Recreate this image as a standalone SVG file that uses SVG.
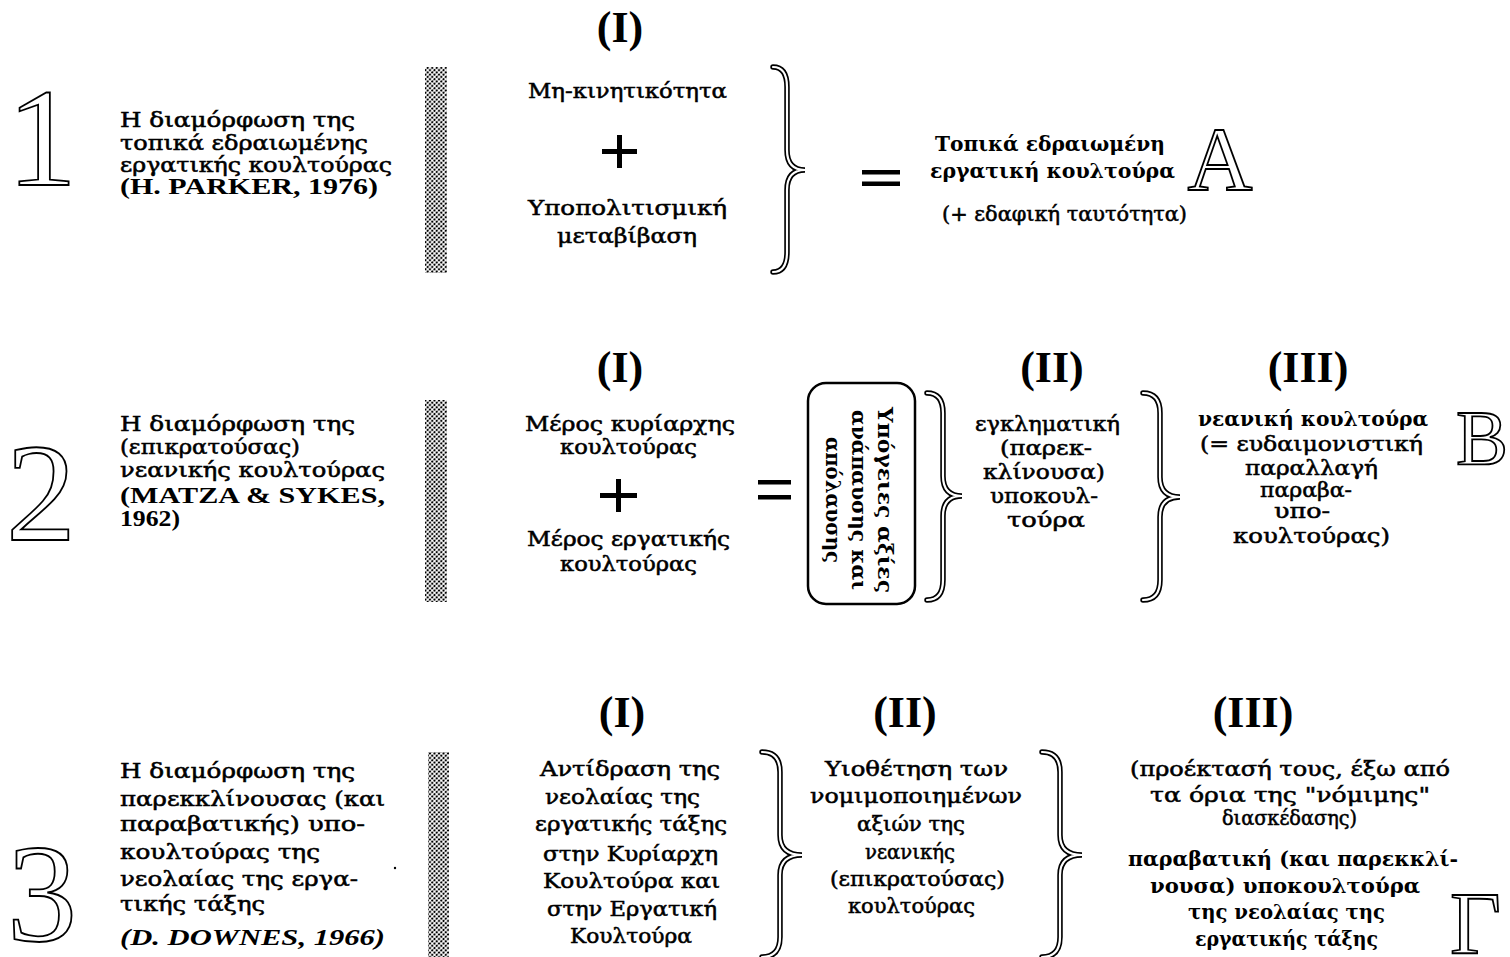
<svg xmlns="http://www.w3.org/2000/svg" width="1510" height="957" viewBox="0 0 1510 957">
<style>
.t{font-family:"DejaVu Serif","Liberation Serif",serif;font-size:21px;fill:#000;stroke:#000;stroke-width:0.55px}
.h{font-family:"DejaVu Serif","Liberation Serif",serif;font-weight:bold;font-size:20px;fill:#000}
.lat{font-family:"Liberation Serif",serif;font-weight:bold;font-size:23px;fill:#000}
.it{font-style:italic}
.hd{font-family:"Liberation Serif",serif;font-weight:bold;font-size:44px;fill:#000;text-anchor:middle}
.ol{font-family:"Liberation Serif",serif;fill:#fff;stroke:#000;stroke-width:1.8px}
.bo{fill:none;stroke:#000;stroke-width:5.5;stroke-linejoin:miter;stroke-linecap:round}
.bi{fill:none;stroke:#fff;stroke-width:2.2;stroke-linejoin:miter;stroke-linecap:round}
.bar{fill:url(#dots)}
.sym{fill:#000}
</style>
<defs>
<pattern id="dots" width="3.2" height="3.2" patternUnits="userSpaceOnUse" patternTransform="rotate(45)">
<rect width="3.2" height="3.2" fill="#fff"/>
<circle cx="1.6" cy="1.6" r="1.15" fill="#000"/>
</pattern>
<path id="br1" d="M773,67 Q787,67 787,87 L787,150 Q787,170 805,170 Q787,170 787,190 L787,252 Q787,272 773,272"/>
<path id="br2" d="M927,393 Q943,393 943,413 L943,476 Q943,496 962,496 Q943,496 943,516 L943,580 Q943,600 927,600"/>
<path id="br3" d="M1143,393 Q1160,393 1160,413 L1160,477 Q1160,497 1180,497 Q1160,497 1160,517 L1160,580 Q1160,600 1143,600"/>
<path id="br4" d="M762,752 Q780,752 780,772 L780,835 Q780,855 802,855 Q780,855 780,875 L780,937 Q780,957 762,957"/>
<path id="br5" d="M1042,752 Q1060,752 1060,772 L1060,835 Q1060,855 1082,855 Q1060,855 1060,875 L1060,937 Q1060,957 1042,957"/>
</defs>
<rect width="1510" height="957" fill="#fff"/>

<!-- Row 1 -->
<g id="num1"><text class="ol" x="42" y="185" font-size="140" text-anchor="middle">1</text></g>
<g id="r1-desc">
<text class="t" x="120" y="127" textLength="235" lengthAdjust="spacingAndGlyphs">Η διαμόρφωση της</text>
<text class="t" x="120" y="150" textLength="248" lengthAdjust="spacingAndGlyphs">τοπικά εδραιωμένης</text>
<text class="t" x="120" y="172" textLength="272" lengthAdjust="spacingAndGlyphs">εργατικής κουλτούρας</text>
<text class="lat" x="120" y="194" textLength="258" lengthAdjust="spacingAndGlyphs">(H. PARKER, 1976)</text>
</g>
<g id="r1-bar"><rect class="bar" x="425" y="67" width="22" height="206"/></g>
<g id="r1-colI">
<text class="hd" x="620" y="42">(I)</text>
<text class="t" x="528" y="98" textLength="199" lengthAdjust="spacingAndGlyphs">Μη-κινητικότητα</text>
<path class="sym" d="M602,149 H637 V154 H602 Z M617,135 H622 V168 H617 Z"/>
<text class="t" x="528" y="215" textLength="199" lengthAdjust="spacingAndGlyphs">Υποπολιτισμική</text>
<text class="t" x="557" y="243" textLength="140" lengthAdjust="spacingAndGlyphs">μεταβίβαση</text>
</g>
<g id="r1-result">
<path class="sym" d="M862,170 H900 V174.5 H862 Z M862,181.5 H900 V186 H862 Z"/>
<text class="h" x="935" y="151" textLength="230" lengthAdjust="spacingAndGlyphs">Τοπικά εδραιωμένη</text>
<text class="h" x="930" y="178" textLength="245" lengthAdjust="spacingAndGlyphs">εργατική κουλτούρα</text>
<text class="t" x="942" y="221" textLength="245" lengthAdjust="spacingAndGlyphs">(+ εδαφική ταυτότητα)</text>
<text class="ol" x="1220" y="190" font-size="90" text-anchor="middle">A</text>
</g>

<!-- Row 2 -->
<g id="num2"><text class="ol" x="41" y="540" font-size="140" text-anchor="middle">2</text></g>
<g id="r2-desc">
<text class="t" x="120" y="431" textLength="235" lengthAdjust="spacingAndGlyphs">Η διαμόρφωση της</text>
<text class="t" x="120" y="454" textLength="180" lengthAdjust="spacingAndGlyphs">(επικρατούσας)</text>
<text class="t" x="120" y="477" textLength="265" lengthAdjust="spacingAndGlyphs">νεανικής κουλτούρας</text>
<text class="lat" x="120" y="503" textLength="265" lengthAdjust="spacingAndGlyphs">(MATZA &amp; SYKES,</text>
<text class="lat" x="120" y="526" textLength="60" lengthAdjust="spacingAndGlyphs">1962)</text>
</g>
<g id="r2-bar"><rect class="bar" x="425" y="400" width="22" height="202"/></g>
<g id="r2-colI">
<text class="hd" x="620" y="382">(I)</text>
<text class="t" x="525" y="431" textLength="210" lengthAdjust="spacingAndGlyphs">Μέρος κυρίαρχης</text>
<text class="t" x="560" y="454" textLength="137" lengthAdjust="spacingAndGlyphs">κουλτούρας</text>
<path class="sym" d="M600,493 H637 V498 H600 Z M616,479 H621 V512 H616 Z"/>
<text class="t" x="527" y="546" textLength="203" lengthAdjust="spacingAndGlyphs">Μέρος εργατικής</text>
<text class="t" x="560" y="571" textLength="137" lengthAdjust="spacingAndGlyphs">κουλτούρας</text>
</g>
<g id="r2-equals"><path class="sym" d="M758,480 H791 V484.5 H758 Z M758,495 H791 V499.5 H758 Z"/></g>
<g id="r2-box">
<rect x="808" y="383" width="107" height="221" rx="18" ry="18" fill="none" stroke="#000" stroke-width="2.5"/>
<text class="h" font-size="19" transform="translate(885,500) rotate(90)" x="-93" y="0" dominant-baseline="central" textLength="186" lengthAdjust="spacingAndGlyphs">Υπόγειες αξίες</text>
<text class="h" font-size="19" transform="translate(859,500) rotate(90)" x="-90" y="0" dominant-baseline="central" textLength="180" lengthAdjust="spacingAndGlyphs">ανάπαυσης και</text>
<text class="h" font-size="19" transform="translate(833,500) rotate(90)" x="-63" y="0" dominant-baseline="central" textLength="126" lengthAdjust="spacingAndGlyphs">απόλαυσης</text>
</g>
<g id="r2-colII">
<text class="hd" x="1052" y="382">(II)</text>
<text class="t" x="975" y="431" textLength="145" lengthAdjust="spacingAndGlyphs">εγκληματική</text>
<text class="t" x="1000" y="455" textLength="92" lengthAdjust="spacingAndGlyphs">(παρεκ-</text>
<text class="t" x="983" y="479" textLength="122" lengthAdjust="spacingAndGlyphs">κλίνουσα)</text>
<text class="t" x="990" y="503" textLength="108" lengthAdjust="spacingAndGlyphs">υποκουλ-</text>
<text class="t" x="1007" y="527" textLength="78" lengthAdjust="spacingAndGlyphs">τούρα</text>
</g>
<g id="r2-colIII">
<text class="hd" x="1308" y="382">(III)</text>
<text class="h" x="1198" y="426" textLength="230" lengthAdjust="spacingAndGlyphs">νεανική κουλτούρα</text>
<text class="t" x="1200" y="451" textLength="223" lengthAdjust="spacingAndGlyphs">(= ευδαιμονιστική</text>
<text class="t" x="1245" y="475" textLength="133" lengthAdjust="spacingAndGlyphs">παραλλαγή</text>
<text class="t" x="1260" y="497" textLength="92" lengthAdjust="spacingAndGlyphs">παραβα-</text>
<text class="t" x="1274" y="518" textLength="56" lengthAdjust="spacingAndGlyphs">υπο-</text>
<text class="t" x="1233" y="543" textLength="157" lengthAdjust="spacingAndGlyphs">κουλτούρας)</text>
<text class="ol" x="1456" y="464" font-size="78">B</text>
</g>

<!-- Row 3 -->
<g id="num3"><text class="ol" x="42" y="941" font-size="140" text-anchor="middle">3</text></g>
<g id="r3-desc">
<text class="t" x="120" y="778" textLength="235" lengthAdjust="spacingAndGlyphs">Η διαμόρφωση της</text>
<text class="t" x="120" y="806" textLength="265" lengthAdjust="spacingAndGlyphs">παρεκκλίνουσας (και</text>
<text class="t" x="120" y="831" textLength="245" lengthAdjust="spacingAndGlyphs">παραβατικής) υπο-</text>
<text class="t" x="120" y="859" textLength="200" lengthAdjust="spacingAndGlyphs">κουλτούρας της</text>
<text class="t" x="120" y="886" textLength="238" lengthAdjust="spacingAndGlyphs">νεολαίας της εργα-</text>
<text class="t" x="120" y="911" textLength="145" lengthAdjust="spacingAndGlyphs">τικής τάξης</text>
<text class="lat it" x="120" y="945" textLength="265" lengthAdjust="spacingAndGlyphs">(D. DOWNES, 1966)</text>
<circle cx="395" cy="868" r="1.2" fill="#000"/>
</g>
<g id="r3-bar"><rect class="bar" x="428" y="752" width="21" height="205"/></g>
<g id="r3-colI">
<text class="hd" x="622" y="727">(I)</text>
<text class="t" x="540" y="776" textLength="180" lengthAdjust="spacingAndGlyphs">Αντίδραση της</text>
<text class="t" x="545" y="804" textLength="155" lengthAdjust="spacingAndGlyphs">νεολαίας της</text>
<text class="t" x="535" y="831" textLength="192" lengthAdjust="spacingAndGlyphs">εργατικής τάξης</text>
<text class="t" x="543" y="861" textLength="175" lengthAdjust="spacingAndGlyphs">στην Κυρίαρχη</text>
<text class="t" x="543" y="888" textLength="177" lengthAdjust="spacingAndGlyphs">Κουλτούρα και</text>
<text class="t" x="547" y="916" textLength="170" lengthAdjust="spacingAndGlyphs">στην Εργατική</text>
<text class="t" x="570" y="943" textLength="122" lengthAdjust="spacingAndGlyphs">Κουλτούρα</text>
</g>
<g id="r3-colII">
<text class="hd" x="905" y="727">(II)</text>
<text class="t" x="825" y="776" textLength="183" lengthAdjust="spacingAndGlyphs">Υιοθέτηση των</text>
<text class="t" x="810" y="803" textLength="212" lengthAdjust="spacingAndGlyphs">νομιμοποιημένων</text>
<text class="t" x="857" y="831" textLength="108" lengthAdjust="spacingAndGlyphs">αξιών της</text>
<text class="t" x="865" y="859" textLength="90" lengthAdjust="spacingAndGlyphs">νεανικής</text>
<text class="t" x="830" y="886" textLength="175" lengthAdjust="spacingAndGlyphs">(επικρατούσας)</text>
<text class="t" x="848" y="913" textLength="127" lengthAdjust="spacingAndGlyphs">κουλτούρας</text>
</g>
<g id="r3-colIII">
<text class="hd" x="1253" y="727">(III)</text>
<text class="t" x="1130" y="776" textLength="320" lengthAdjust="spacingAndGlyphs">(προέκτασή τους, έξω από</text>
<text class="t" x="1150" y="802" textLength="280" lengthAdjust="spacingAndGlyphs">τα όρια της "νόμιμης"</text>
<text class="t" x="1222" y="825" textLength="135" lengthAdjust="spacingAndGlyphs">διασκέδασης)</text>
<text class="h" x="1128" y="866" textLength="330" lengthAdjust="spacingAndGlyphs">παραβατική (και παρεκκλί-</text>
<text class="h" x="1150" y="893" textLength="270" lengthAdjust="spacingAndGlyphs">νουσα) υποκουλτούρα</text>
<text class="h" x="1188" y="919" textLength="197" lengthAdjust="spacingAndGlyphs">της νεολαίας της</text>
<text class="h" x="1195" y="946" textLength="183" lengthAdjust="spacingAndGlyphs">εργατικής τάξης</text>
<text class="ol" x="1450" y="953" font-size="88">Γ</text>
</g>

<!-- Connectors: braces -->
<g id="connectors">
<use href="#br1" class="bo"/><use href="#br1" class="bi"/>
<use href="#br2" class="bo"/><use href="#br2" class="bi"/>
<use href="#br3" class="bo"/><use href="#br3" class="bi"/>
<use href="#br4" class="bo"/><use href="#br4" class="bi"/>
<use href="#br5" class="bo"/><use href="#br5" class="bi"/>
</g>
</svg>
